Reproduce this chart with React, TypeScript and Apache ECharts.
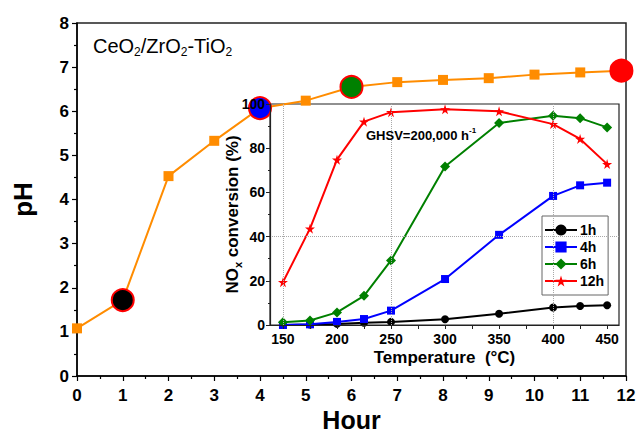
import React, { useEffect, useRef } from "react";
import * as echarts from "echarts";

// Main chart: pH vs hour
const hours = [0, 1, 2, 3, 4, 5, 6, 7, 8, 9, 10, 11, 11.9];
const pHValues = [1.08, 1.72, 4.53, 5.33, 6.07, 6.24, 6.55, 6.66, 6.71, 6.75, 6.83, 6.88, 6.92];
const highlightIdx = [1, 4, 6, 12];
const highlightFill = ["#000000", "#0000FF", "#008000", "#FF0000"];

// Inset: NOx conversion vs temperature
const temps = [150, 175, 200, 225, 250, 300, 350, 400, 425, 450];
const conv1h = [0, 0.2, 0.5, 1.0, 1.4, 2.6, 5.1, 7.9, 8.6, 8.9];
const conv4h = [0, 0.3, 1.4, 2.7, 6.5, 20.8, 40.8, 58.4, 63.2, 64.4];
const conv6h = [1.2, 2.0, 5.7, 13.2, 29.2, 71.7, 91.4, 94.7, 93.6, 89.4];
const conv12h = [19.4, 43.6, 74.8, 92.0, 96.3, 97.6, 96.7, 90.9, 84.2, 72.8];
const seriesNames = ["1h", "4h", "6h", "12h"];

// Tick labels
const insetTempLabels = [150, 200, 250, 300, 350, 400, 450];
const insetTempTicks = [150, 175, 200, 225, 250, 275, 300, 325, 350, 375, 400, 425, 450];
const insetGuideTemps = [150, 250, 400];
const insetGuideConv = [40];

const FONT = "'Liberation Sans', Arial, sans-serif";
const STAR = "path://M50,0 L61,35 L98,35 L68,57 L79,91 L50,70 L21,91 L32,57 L2,35 L39,35 Z";

export default function App() {
  const ref = useRef<HTMLDivElement>(null);
  useEffect(() => {
    document.body.style.margin = "0";
    if (!ref.current) return;
    const chart = echarts.init(ref.current, undefined, { renderer: "svg" });
    const zip = (ys: number[]) => temps.map((t, i) => [t, ys[i]]);
    const insetSeries = (name: string, ys: number[], color: string, symbol: string, size: number, extra: any = {}) => ({
      name,
      type: "line",
      xAxisIndex: 1,
      yAxisIndex: 1,
      data: zip(ys),
      symbol,
      symbolSize: size,
      lineStyle: { color, width: 2 },
      itemStyle: { color },
      z: 3,
      ...extra,
    });
    chart.setOption({
      animation: false,
      textStyle: { fontFamily: FONT },
      grid: [
        { left: 77, top: 23, right: 11, bottom: 56, outerBoundsMode: "none", containLabel: false, show: true, borderColor: "#222", borderWidth: 1.5, backgroundColor: "transparent" },
        { left: 270, top: 104, right: 18, bottom: 107, outerBoundsMode: "none", containLabel: false, show: true, borderColor: "#222", borderWidth: 1.2, backgroundColor: "#ffffff" },
      ],
      xAxis: [
        {
          type: "value", gridIndex: 0, min: 0, max: 12, interval: 1,
          name: "Hour", nameLocation: "middle", nameGap: 31, nameMoveOverlap: false,
          nameTextStyle: { fontSize: 25, fontWeight: "bold", color: "#000", fontFamily: FONT, lineHeight: 25 },
          axisLine: { lineStyle: { color: "#000", width: 1.5 } },
          axisTick: { inside: false, length: 5, lineStyle: { color: "#000", width: 1.2 } },
          minorTick: { show: true, splitNumber: 2, length: 3, lineStyle: { color: "#000", width: 1.2 } },
          axisLabel: { fontSize: 17, fontWeight: "bold", color: "#000", margin: 11, fontFamily: FONT },
          splitLine: { show: false },
        },
        {
          type: "value", gridIndex: 1, min: 138, max: 461,
          name: "Temperature  (°C)", nameLocation: "middle", nameGap: 24, nameMoveOverlap: false,
          nameTextStyle: { fontSize: 17, fontWeight: "bold", color: "#000", fontFamily: FONT },
          axisLine: { lineStyle: { color: "#222", width: 1.2 } },
          axisTick: { inside: false, length: 4, customValues: insetTempTicks, lineStyle: { color: "#222" } },
          axisLabel: { fontSize: 14, fontWeight: "bold", color: "#000", margin: 7, customValues: insetTempLabels, fontFamily: FONT },
          splitLine: { show: false },
          z: 7,
        },
      ],
      yAxis: [
        {
          type: "value", gridIndex: 0, min: 0, max: 8, interval: 1,
          name: "pH", nameLocation: "middle", nameGap: 41, nameMoveOverlap: false,
          nameTextStyle: { fontSize: 26, fontWeight: "bold", color: "#000", fontFamily: FONT },
          axisLine: { lineStyle: { color: "#000", width: 1.5 } },
          axisTick: { inside: false, length: 5, lineStyle: { color: "#000", width: 1.2 } },
          minorTick: { show: true, splitNumber: 2, length: 3, lineStyle: { color: "#000", width: 1.2 } },
          axisLabel: { fontSize: 17, fontWeight: "bold", color: "#000", margin: 8, fontFamily: FONT },
          splitLine: { show: false },
        },
        {
          type: "value", gridIndex: 1, min: 0, max: 100, interval: 20,
          name: "{a|NO}{s|x}{a| conversion (%)}", nameLocation: "middle", nameGap: 27, nameMoveOverlap: false,
          nameTextStyle: {
            color: "#000",
            rich: {
              a: { fontSize: 17, fontWeight: "bold", color: "#000", fontFamily: FONT, lineHeight: 22 },
              s: { fontSize: 11, fontWeight: "bold", color: "#000", fontFamily: FONT, verticalAlign: "bottom", lineHeight: 22 },
            },
          },
          axisLine: { lineStyle: { color: "#222", width: 1.2 } },
          axisTick: { inside: false, length: 4, lineStyle: { color: "#222" } },
          minorTick: { show: true, splitNumber: 2, length: 2, lineStyle: { color: "#222" } },
          axisLabel: { fontSize: 14, fontWeight: "bold", color: "#000", margin: 5, fontFamily: FONT },
          splitLine: { show: false },
          z: 7,
        },
      ],
      legend: {
        data: seriesNames,
        orient: "vertical",
        left: 542,
        top: 216,
        itemWidth: 32,
        itemHeight: 14,
        itemGap: 3,
        padding: [7, 4, 7, 2],
        borderColor: "#666",
        borderWidth: 1,
        backgroundColor: "#fff",
        textStyle: { fontSize: 14, fontWeight: "bold", color: "#000", fontFamily: FONT, padding: [0, 0, 0, -2] },
      },
      graphic: [
        {
          type: "text", left: 93, top: 36, z: 10,
          style: {
            text: "{a|CeO}{s|2}{a|/ZrO}{s|2}{a|-TiO}{s|2}",
            rich: {
              a: { fontSize: 20, fontFamily: FONT, fill: "#000", lineHeight: 24 },
              s: { fontSize: 12, fontFamily: FONT, fill: "#000", verticalAlign: "bottom", lineHeight: 24 },
            },
          },
        },
        {
          type: "text", left: 366, top: 126, z: 10,
          style: {
            text: "{a|GHSV=200,000 h}{p|-1}",
            rich: {
              a: { fontSize: 13, fontWeight: "bold", fontFamily: FONT, fill: "#000", lineHeight: 18 },
              p: { fontSize: 8, fontWeight: "bold", fontFamily: FONT, fill: "#000", verticalAlign: "top", lineHeight: 18 },
            },
          },
        },
      ],
      series: [
        {
          name: "pH",
          type: "line",
          xAxisIndex: 0,
          yAxisIndex: 0,
          data: hours.map((h, i) => [h, pHValues[i]]),
          symbol: "rect",
          symbolSize: 10,
          lineStyle: { color: "#FF8C00", width: 2 },
          itemStyle: { color: "#FF8C00" },
          z: 4,
        },
        {
          name: "pH-highlight",
          type: "scatter",
          xAxisIndex: 0,
          yAxisIndex: 0,
          data: highlightIdx.map((idx, k) => ({
            value: [hours[idx], pHValues[idx]],
            itemStyle: { color: highlightFill[k], borderColor: "#FF0000", borderWidth: 2, opacity: 1 },
          })),
          symbol: "circle",
          symbolSize: 22,
          itemStyle: { opacity: 1 },
          z: 6,
        },
        insetSeries("1h", conv1h, "#000000", "circle", 8, {
          markLine: {
            silent: true,
            symbol: "none",
            label: { show: false },
            lineStyle: { type: "dotted", color: "#a8a8a8", width: 1 },
            data: [
              ...insetGuideTemps.map((t) => ({ xAxis: t })),
              ...insetGuideConv.map((c) => ({ yAxis: c })),
            ],
          },
        }),
        insetSeries("4h", conv4h, "#0000FF", "rect", 8),
        insetSeries("6h", conv6h, "#008000", "diamond", 10),
        insetSeries("12h", conv12h, "#FF0000", STAR, 10),
      ],
    });
    return () => chart.dispose();
  }, []);
  return <div ref={ref} style={{ width: 637, height: 432 }} />;
}
